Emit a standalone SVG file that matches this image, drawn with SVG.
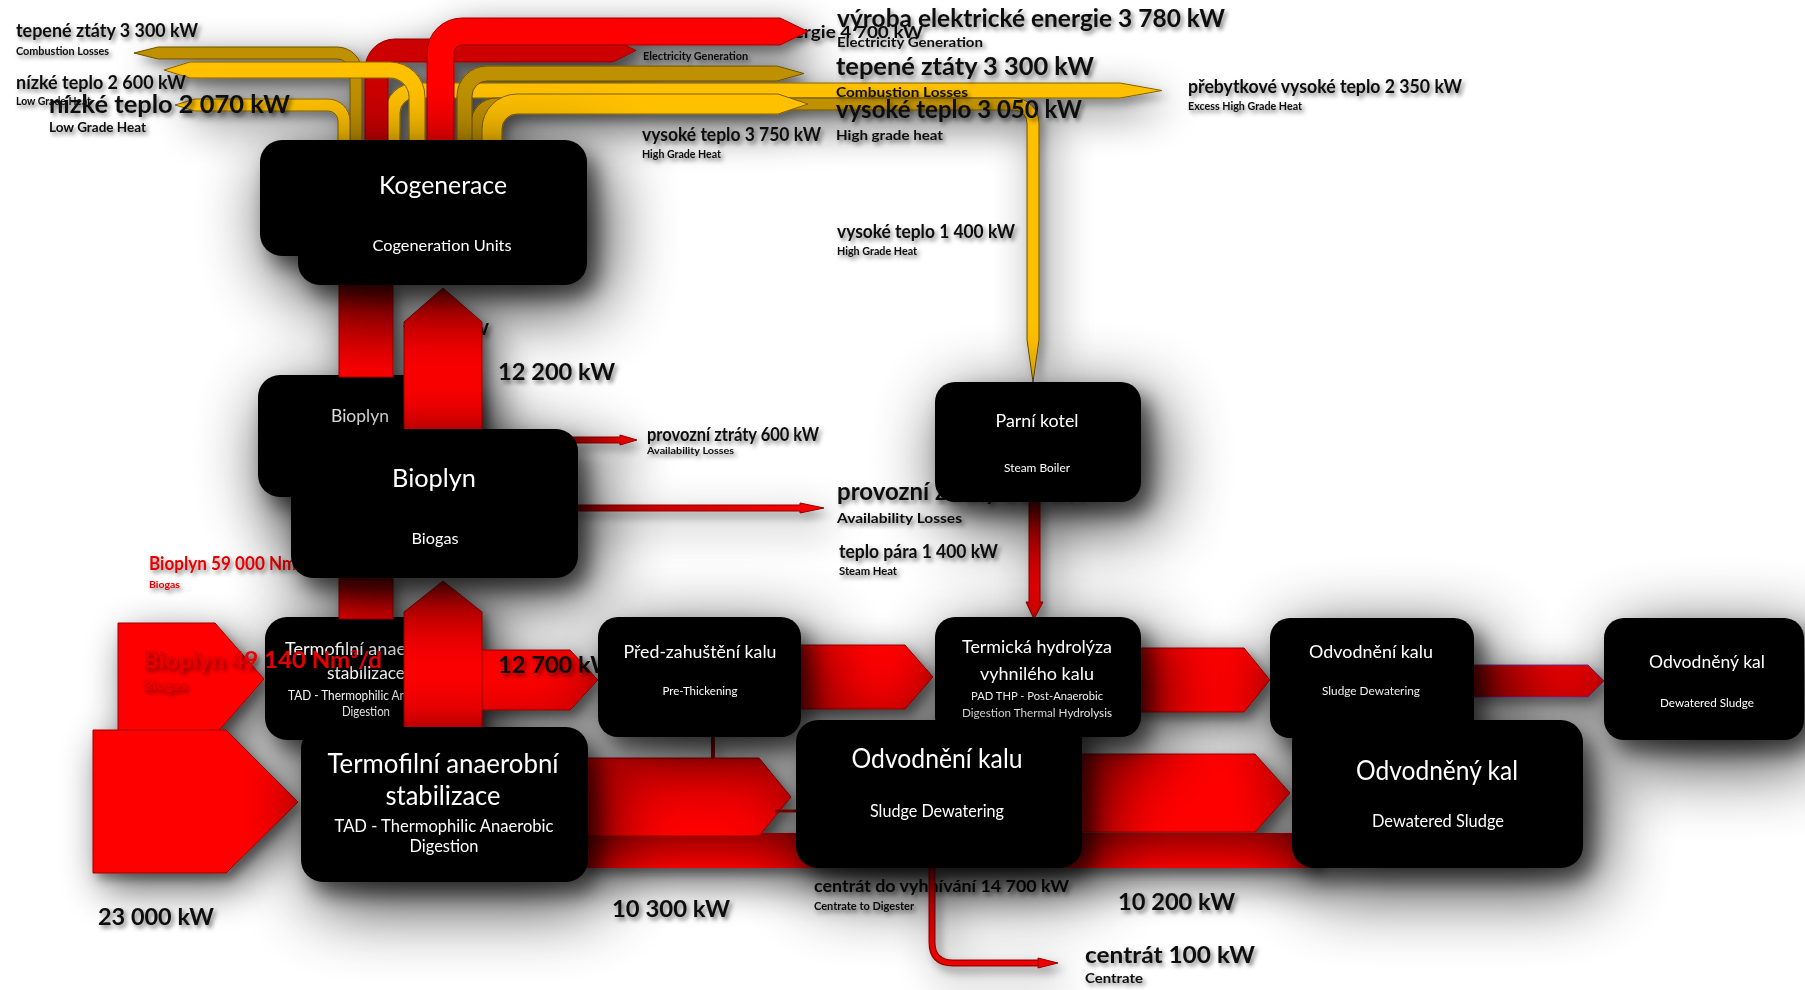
<svg xmlns="http://www.w3.org/2000/svg" width="1805" height="990" viewBox="0 0 1805 990">
<defs>
<style>
.l{font-family:Lato,"Open Sans","DejaVu Sans",sans-serif;font-weight:700;fill:#0d0d0d}
.r{fill:#e80000}
.n{font-family:Lato,"Open Sans","DejaVu Sans",sans-serif;font-weight:400;fill:#fff;text-anchor:middle}
.box{fill:#000}
.gb{fill:#ffc000;stroke:#7f6000;stroke-width:1}
.gd{fill:#bf9000;stroke:#6b5000;stroke-width:1}
.ra{fill:#ff0000;stroke:#9a0000;stroke-width:1}
</style>
<filter id="ns" x="-80%" y="-80%" width="280%" height="310%">
<feGaussianBlur in="SourceAlpha" stdDeviation="36" result="b1"/>
<feOffset in="b1" dx="14" dy="20" result="o1"/>
<feComponentTransfer in="o1" result="s1"><feFuncA type="linear" slope="0.85"/></feComponentTransfer>
<feGaussianBlur in="SourceAlpha" stdDeviation="10" result="b2"/>
<feOffset in="b2" dx="10" dy="12" result="o2"/>
<feComponentTransfer in="o2" result="s2"><feFuncA type="linear" slope="0.55"/></feComponentTransfer>
<feMerge><feMergeNode in="s1"/><feMergeNode in="s2"/><feMergeNode in="SourceGraphic"/></feMerge>
</filter>
<filter id="as" x="-20%" y="-20%" width="150%" height="150%">
<feGaussianBlur in="SourceAlpha" stdDeviation="20" result="b1"/>
<feOffset in="b1" dx="10" dy="14" result="o1"/>
<feComponentTransfer in="o1" result="s1"><feFuncA type="linear" slope="0.65"/></feComponentTransfer>
<feGaussianBlur in="SourceAlpha" stdDeviation="5" result="b2"/>
<feOffset in="b2" dx="5" dy="6" result="o2"/>
<feComponentTransfer in="o2" result="s2"><feFuncA type="linear" slope="0.35"/></feComponentTransfer>
<feMerge><feMergeNode in="s1"/><feMergeNode in="s2"/><feMergeNode in="SourceGraphic"/></feMerge>
</filter>
<filter id="ts" x="-10%" y="-40%" width="125%" height="190%"><feDropShadow dx="2.5" dy="3" stdDeviation="2" flood-color="#000" flood-opacity="0.5"/></filter>
<linearGradient id="barV" x1="0" y1="0" x2="0" y2="1"><stop offset="0" stop-color="#b80000"/><stop offset="1" stop-color="#ff0000"/></linearGradient>
<linearGradient id="bandV" x1="0" y1="0" x2="0" y2="1"><stop offset="0" stop-color="#9a0000"/><stop offset="1" stop-color="#f20000"/></linearGradient>
<linearGradient id="redH" x1="0" y1="0" x2="1" y2="0"><stop offset="0" stop-color="#b00000"/><stop offset="1" stop-color="#ff0000"/></linearGradient>
<linearGradient id="r4" gradientUnits="userSpaceOnUse" x1="471" y1="0" x2="1039" y2="0"><stop offset="0" stop-color="#bf9000"/><stop offset="0.93" stop-color="#bf9000"/><stop offset="0.985" stop-color="#ffc000"/></linearGradient>
</defs>
<rect width="1805" height="990" fill="#fff"/>

<g id="labels-under" filter="url(#ts)">
<text class="l" x="623" y="38" font-size="17" textLength="300" lengthAdjust="spacingAndGlyphs">výroba elektrické energie 4 700 kW</text>
<text class="l" x="402" y="335" font-size="17" textLength="87" lengthAdjust="spacingAndGlyphs">12 200 kW</text>
<text class="l" x="814" y="892" font-size="17" textLength="255" lengthAdjust="spacingAndGlyphs">centrát do vyhnívání  14 700 kW</text>
<text class="l" x="814" y="910" font-size="11" textLength="100" lengthAdjust="spacingAndGlyphs">Centrate to Digester</text>
</g>

<g id="node-bioplyn-back" filter="url(#ns)">
<rect class="box" x="258" y="375" width="212" height="122" rx="22"/>
<text class="n" x="360" y="422" font-size="17" textLength="58" lengthAdjust="spacingAndGlyphs">Bioplyn</text>
</g>
<g id="node-termofilni-back" filter="url(#ns)">
<rect class="box" x="265" y="617" width="202" height="123" rx="22"/>
<text class="n" x="366" y="655" font-size="18" textLength="162" lengthAdjust="spacingAndGlyphs">Termofilní anaerobní</text>
<text class="n" x="366" y="679" font-size="18" textLength="78" lengthAdjust="spacingAndGlyphs">stabilizace</text>
<text class="n" x="366" y="700" font-size="13" textLength="156" lengthAdjust="spacingAndGlyphs">TAD -  Thermophilic Anaerobic</text>
<text class="n" x="366" y="716" font-size="13" textLength="48" lengthAdjust="spacingAndGlyphs">Digestion</text>
</g>

<g id="connectors" filter="url(#as)">
<path class="gb" d="M385,141 V113 A30,30 0 0 1 415,83 H1120 L1162,90.5 L1120,98 H415 A15,15 0 0 0 400,113 V141 Z"/>
<path fill="url(#r4)" stroke="#6b5000" d="M471,141 V123 A25,25 0 0 1 496,98 H1014 A25,25 0 0 1 1039,123 V340 L1033,382 L1027,340 V123 A13,13 0 0 0 1014,110 H496 A13,13 0 0 0 483,123 V141 Z"/>
<path class="gd" d="M457,141 V96 A30,30 0 0 1 487,66 H777 L804,73.5 L777,81 H487 A15,15 0 0 0 472,96 V141 Z"/>
<path class="gb" d="M482,141 V129 A35,35 0 0 1 517,94 H778 L808,104 L778,114 H517 A15,15 0 0 0 502,129 V141 Z"/>
<path class="gd" d="M362,141 V72 A25,25 0 0 0 337,47 H158 L134,53 L158,59 H337 A13,13 0 0 1 350,72 V141 Z"/>
<path class="gb" d="M350,141 V121 A22,22 0 0 0 328,99 H195 L175,105 L195,111 H328 A10,10 0 0 1 338,121 V141 Z"/>
<path fill="#cc0000" stroke="#8a0000" d="M365,141 V69 A30,30 0 0 1 395,39 H613 L636,50.5 L613,62 H395 A7,7 0 0 0 388,69 V141 Z"/>
<path class="gb" d="M425,141 V97 A35,35 0 0 0 390,62 H190 L164,70 L190,78 H390 A19,19 0 0 1 409,97 V141 Z"/>
<path class="ra" d="M427,141 V53 A35,35 0 0 1 462,18 H780 L808,31.5 L780,45 H462 A8,8 0 0 0 454,53 V141 Z"/>
<rect x="339" y="284" width="54" height="93" fill="url(#barV)" stroke="#9a0000"/>
<polygon class="ra" points="404,440 404,322 443,288 482,322 482,440"/>
<polygon fill="url(#redH)" stroke="#8a0000" points="570,437 620,437 620,435 637,440 620,445 620,443 570,443"/>
<polygon fill="url(#redH)" stroke="#8a0000" points="570,505 800,505 800,503 824,508 800,513 800,511 570,511"/>
<polygon fill="url(#barV)" stroke="#8a0000" points="1029,500 1040,500 1040,602 1043,602 1034,619 1026,602 1029,602"/>
<rect x="339" y="577" width="54" height="42" fill="url(#barV)" stroke="#9a0000"/>
<polygon class="ra" points="118,623 215,623 264,679 215,735 118,735"/>
<polygon class="ra" points="93,730 226,730 298,802 226,873 93,873"/>
<polygon class="ra" points="440,650 570,650 598,680 570,710 440,710"/>
<polygon class="ra" points="404,735 404,612 443,581 482,612 482,735"/>
<rect x="580" y="833" width="740" height="35" fill="url(#bandV)"/>
<polygon class="ra" points="580,758 759,758 791,797 759,836 580,836"/>
<polygon class="ra" points="795,645 905,645 933,677 905,709 795,709"/>
<polygon class="ra" points="1135,648 1244,648 1270,680 1244,712 1135,712"/>
<polygon fill="url(#redH)" stroke="#7030a0" points="1470,665 1588,665 1604,681 1588,697 1470,697"/>
<polygon class="ra" points="1075,754 1255,754 1290,793 1255,832 1075,832"/>
<rect x="711" y="737" width="4" height="22" fill="#a00000"/>
<line x1="775" y1="811" x2="797" y2="811" stroke="#8b0000" stroke-width="3"/>
<path d="M932,866 V942 Q932,963 953,963 H1040" fill="none" stroke="#900000" stroke-width="7"/>
<path d="M932,866 V942 Q932,963 953,963 H1040" fill="none" stroke="#f00000" stroke-width="4.5"/>
<polygon fill="#f00000" stroke="#900000" points="1038,958 1058,963 1038,968"/>
</g>

<g id="labels" filter="url(#ts)">
<text class="l" x="16" y="37" font-size="19" textLength="182" lengthAdjust="spacingAndGlyphs">tepené ztáty  3 300 kW</text>
<text class="l" x="16" y="55" font-size="11" textLength="93" lengthAdjust="spacingAndGlyphs">Combustion Losses</text>
<text class="l" x="16" y="89" font-size="19" textLength="170" lengthAdjust="spacingAndGlyphs">nízké teplo   2 600 kW</text>
<text class="l" x="16" y="105" font-size="11" textLength="75" lengthAdjust="spacingAndGlyphs">Low Grade Heat</text>
<text class="l" x="49" y="113" font-size="24" textLength="241" lengthAdjust="spacingAndGlyphs">nízké teplo   2 070 kW</text>
<text class="l" x="49" y="132" font-size="14" textLength="97" lengthAdjust="spacingAndGlyphs">Low Grade Heat</text>
<text class="l" x="643" y="60" font-size="11" textLength="105" lengthAdjust="spacingAndGlyphs">Electricity Generation</text>
<text class="l" x="837" y="27" font-size="24" textLength="388" lengthAdjust="spacingAndGlyphs">výroba elektrické energie 3 780 kW</text>
<text class="l" x="837" y="47" font-size="14" textLength="146" lengthAdjust="spacingAndGlyphs">Electricity Generation</text>
<text class="l" x="836" y="75" font-size="24" textLength="258" lengthAdjust="spacingAndGlyphs">tepené ztáty  3 300 kW</text>
<text class="l" x="836" y="97" font-size="14" textLength="132" lengthAdjust="spacingAndGlyphs">Combustion Losses</text>
<text class="l" x="836" y="118" font-size="24" textLength="246" lengthAdjust="spacingAndGlyphs">vysoké teplo 3 050 kW</text>
<text class="l" x="836" y="140" font-size="14" textLength="107" lengthAdjust="spacingAndGlyphs">High grade heat</text>
<text class="l" x="642" y="141" font-size="18" textLength="179" lengthAdjust="spacingAndGlyphs">vysoké teplo 3 750 kW</text>
<text class="l" x="642" y="158" font-size="11" textLength="79" lengthAdjust="spacingAndGlyphs">High Grade Heat</text>
<text class="l" x="1188" y="93" font-size="18" textLength="274" lengthAdjust="spacingAndGlyphs">přebytkové vysoké teplo 2 350 kW</text>
<text class="l" x="1188" y="110" font-size="11" textLength="114" lengthAdjust="spacingAndGlyphs">Excess High Grade Heat</text>
<text class="l" x="837" y="238" font-size="18" textLength="178" lengthAdjust="spacingAndGlyphs">vysoké teplo 1 400 kW</text>
<text class="l" x="837" y="255" font-size="11" textLength="80" lengthAdjust="spacingAndGlyphs">High Grade Heat</text>
<text class="l" x="498" y="380" font-size="23" textLength="117" lengthAdjust="spacingAndGlyphs">12 200 kW</text>
<text class="l" x="647" y="441" font-size="18" textLength="172" lengthAdjust="spacingAndGlyphs">provozní ztráty 600 kW</text>
<text class="l" x="647" y="454" font-size="10" textLength="87" lengthAdjust="spacingAndGlyphs">Availability Losses</text>
<text class="l" x="837" y="500" font-size="24">provozní ztráty 600 kW</text>
<text class="l" x="837" y="523" font-size="14" textLength="125" lengthAdjust="spacingAndGlyphs">Availability Losses</text>
<text class="l" x="839" y="558" font-size="18" textLength="159" lengthAdjust="spacingAndGlyphs">teplo pára 1 400 kW</text>
<text class="l" x="839" y="575" font-size="11" textLength="58" lengthAdjust="spacingAndGlyphs">Steam  Heat</text>
<text class="l r" x="149" y="570" font-size="18" textLength="170" lengthAdjust="spacingAndGlyphs">Bioplyn 59 000 Nm³/d</text>
<text class="l r" x="149" y="588" font-size="10" textLength="31" lengthAdjust="spacingAndGlyphs">Biogas</text>
<text class="l r" x="143" y="668" font-size="22" textLength="239" lengthAdjust="spacingAndGlyphs">Bioplyn 49 140 Nm³/d</text>
<text class="l r" x="143" y="690" font-size="13" textLength="44" lengthAdjust="spacingAndGlyphs">Biogas</text>
<text class="l" x="498" y="673" font-size="23" textLength="117" lengthAdjust="spacingAndGlyphs">12 700 kW</text>
<text class="l" x="98" y="925" font-size="23" textLength="116" lengthAdjust="spacingAndGlyphs">23 000 kW</text>
<text class="l" x="612" y="917" font-size="23" textLength="118" lengthAdjust="spacingAndGlyphs">10 300 kW</text>
<text class="l" x="1118" y="910" font-size="23" textLength="117" lengthAdjust="spacingAndGlyphs">10 200 kW</text>
<text class="l" x="1085" y="963" font-size="23" textLength="170" lengthAdjust="spacingAndGlyphs">centrát 100 kW</text>
<text class="l" x="1085" y="983" font-size="14" textLength="58" lengthAdjust="spacingAndGlyphs">Centrate</text>
</g>

<g id="node-kogenerace" filter="url(#ns)">
<rect class="box" x="260" y="140" width="100" height="116" rx="22"/>
<rect class="box" x="298" y="140" width="289" height="145" rx="22"/>
<text class="n" x="443" y="194" font-size="25" textLength="128" lengthAdjust="spacingAndGlyphs">Kogenerace</text>
<text class="n" x="442" y="251" font-size="16" textLength="139" lengthAdjust="spacingAndGlyphs">Cogeneration Units</text>
</g>
<g id="node-bioplyn" filter="url(#ns)">
<rect class="box" x="291" y="429" width="287" height="149" rx="22"/>
<text class="n" x="434" y="487" font-size="25" textLength="84" lengthAdjust="spacingAndGlyphs">Bioplyn</text>
<text class="n" x="435" y="544" font-size="16" textLength="47" lengthAdjust="spacingAndGlyphs">Biogas</text>
</g>
<g id="node-parni-kotel" filter="url(#ns)">
<rect class="box" x="935" y="382" width="206" height="120" rx="20"/>
<text class="n" x="1037" y="427" font-size="18" textLength="83" lengthAdjust="spacingAndGlyphs">Parní kotel</text>
<text class="n" x="1037" y="472" font-size="12" textLength="66" lengthAdjust="spacingAndGlyphs">Steam  Boiler</text>
</g>
<g id="node-termofilni" filter="url(#ns)">
<rect class="box" x="301" y="727" width="287" height="155" rx="22"/>
<text class="n" x="443" y="773" font-size="26" textLength="231" lengthAdjust="spacingAndGlyphs">Termofilní anaerobní</text>
<text class="n" x="443" y="805" font-size="26" textLength="115" lengthAdjust="spacingAndGlyphs">stabilizace</text>
<text class="n" x="444" y="832" font-size="17" textLength="219" lengthAdjust="spacingAndGlyphs">TAD -  Thermophilic Anaerobic</text>
<text class="n" x="444" y="852" font-size="17" textLength="69" lengthAdjust="spacingAndGlyphs">Digestion</text>
</g>
<g id="node-termicka-hydrolyza" filter="url(#ns)">
<rect class="box" x="935" y="617" width="206" height="120" rx="20"/>
<text class="n" x="1037" y="653" font-size="18" textLength="150" lengthAdjust="spacingAndGlyphs">Termická hydrolýza</text>
<text class="n" x="1037" y="680" font-size="18" textLength="114" lengthAdjust="spacingAndGlyphs">vyhnilého kalu</text>
<text class="n" x="1037" y="700" font-size="12" textLength="132" lengthAdjust="spacingAndGlyphs">PAD THP - Post-Anaerobic</text>
<text class="n" x="1037" y="717" font-size="12" textLength="150" lengthAdjust="spacingAndGlyphs">Digestion Thermal Hydrolysis</text>
</g>
<g id="node-pred-zahusteni" filter="url(#ns)">
<rect class="box" x="598" y="617" width="203" height="120" rx="20"/>
<text class="n" x="700" y="658" font-size="18" textLength="153" lengthAdjust="spacingAndGlyphs">Před-zahuštění kalu</text>
<text class="n" x="700" y="695" font-size="12" textLength="75" lengthAdjust="spacingAndGlyphs">Pre-Thickening</text>
</g>
<g id="node-odvodneni-kalu" filter="url(#ns)">
<rect class="box" x="796" y="720" width="286" height="148" rx="22"/>
<text class="n" x="937" y="768" font-size="26" textLength="171" lengthAdjust="spacingAndGlyphs">Odvodnění kalu</text>
<text class="n" x="937" y="817" font-size="17" textLength="134" lengthAdjust="spacingAndGlyphs">Sludge Dewatering</text>
</g>
<g id="node-odvodneni-kalu-2" filter="url(#ns)">
<rect class="box" x="1270" y="618" width="204" height="120" rx="20"/>
<text class="n" x="1371" y="658" font-size="18" textLength="124" lengthAdjust="spacingAndGlyphs">Odvodnění kalu</text>
<text class="n" x="1371" y="695" font-size="12" textLength="98" lengthAdjust="spacingAndGlyphs">Sludge Dewatering</text>
</g>
<g id="node-odvodneny-kal-2" filter="url(#ns)">
<rect class="box" x="1604" y="618" width="200" height="122" rx="20"/>
<text class="n" x="1707" y="668" font-size="18" textLength="116" lengthAdjust="spacingAndGlyphs">Odvodněný kal</text>
<text class="n" x="1707" y="707" font-size="12" textLength="94" lengthAdjust="spacingAndGlyphs">Dewatered Sludge</text>
</g>
<g id="node-odvodneny-kal" filter="url(#ns)">
<rect class="box" x="1292" y="720" width="291" height="148" rx="22"/>
<text class="n" x="1437" y="780" font-size="26" textLength="162" lengthAdjust="spacingAndGlyphs">Odvodněný kal</text>
<text class="n" x="1438" y="827" font-size="17" textLength="132" lengthAdjust="spacingAndGlyphs">Dewatered Sludge</text>
</g>
</svg>
